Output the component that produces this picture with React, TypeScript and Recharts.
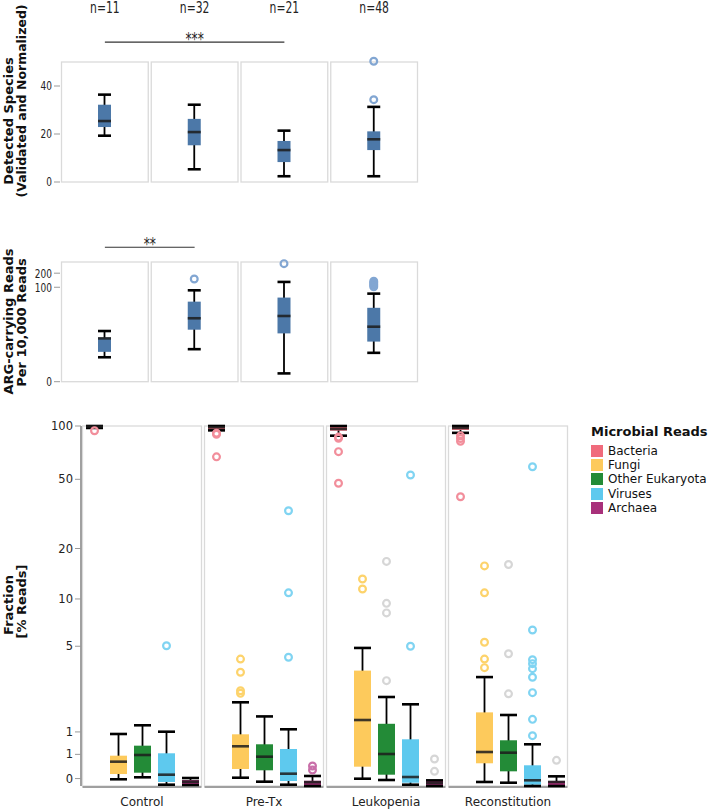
import React from "react";
import {
  Bar,
  ComposedChart,
  Legend,
  ReferenceArea,
  ReferenceLine,
  XAxis,
  YAxis,
} from "recharts";

const FONT = "'DejaVu Sans', Verdana, sans-serif";

const groups = ["Control", "Pre-Tx", "Leukopenia", "Reconstitution"];
const groupSizes = [11, 32, 21, 48];

// box stats per group: [lower whisker, q1, median, q3, upper whisker]
const speciesStats = [
  [19.3, 22.9, 25.4, 32.2, 36.4],
  [5.3, 15.3, 20.8, 26.3, 32.2],
  [2.4, 8.3, 13.3, 17.1, 21.4],
  [2.4, 13.3, 17.8, 21.1, 31.3],
];
const speciesOutliers = [[], [], [], [34.3, 50.3]];
const speciesTicks = [0, 20, 40];
const speciesMax = 50;

const argStats = [
  [2.3, 3.3, 7.3, 7.6, 10.9],
  [3.9, 11.7, 21.2, 49, 86],
  [0.5, 9.6, 23.8, 60, 130],
  [3.1, 6.1, 13.7, 36, 73],
];
const argOutliers = [[], [150], [319], [102, 110, 118, 126, 135]];
const argTicks = [0, 100, 200];
const argMax = 346;

const microbes = ["Bacteria", "Fungi", "Other Eukaryota", "Viruses", "Archaea"];
const microbeColors = ["#f06b7c", "#fdca5c", "#238b37", "#5ec9ee", "#a8307a"];

const bacteriaStats = [
  [97.5, 98.5, 99.3, 99.8, 100],
  [94.5, 95.5, 98.3, 99.8, 100],
  [88.2, 94.1, 96.2, 99.6, 100],
  [91.5, 95, 97.5, 99.3, 100],
];
const bacteriaOutliers = [[94], [91, 89.8, 67], [86.6, 85.3, 71.7, 47.5], [88, 85, 82, 39.8]];

const fungiStats = [
  [0.09, 0.166, 0.366, 0.475, 0.948],
  [0.112, 0.243, 0.664, 0.94, 1.924],
  [0.098, 0.281, 1.33, 3.39, 4.87],
  [0.053, 0.338, 0.546, 1.57, 3.04],
];
const fungiOutliers = [[], [4.09, 3.3, 2.39, 2.28], [13.2, 11.5], [15.8, 10.9, 5.31, 4.09, 3.56]];

const eukaryotaStats = [
  [0.118, 0.186, 0.488, 0.677, 1.178],
  [0.057, 0.223, 0.456, 0.707, 1.44],
  [0.08, 0.156, 0.507, 1.22, 2.13],
  [0.043, 0.207, 0.533, 0.797, 1.485],
];
const eukaryotaOutliers = [[], [], [16.8, 9.4, 8.2, 2.86], [16.1, 4.45, 2.26]];

const virusStats = [
  [0.017, 0.053, 0.156, 0.521, 1.006],
  [0.017, 0.066, 0.171, 0.607, 1.069],
  [0.017, 0.043, 0.122, 0.82, 1.85],
  [0, 0.017, 0.076, 0.304, 0.707],
];
const virusOutliers = [
  [5.04],
  [33.1, 10.9, 4.21],
  [52.9, 5.0],
  [58.9, 6.39, 4.05, 3.8, 3.5, 3.03, 2.31, 1.35, 0.906],
];

const archaeaStats = [
  [0.013, 0.013, 0.057, 0.08, 0.108],
  [0, 0, 0.05, 0.07, 0.137],
  [0, 0, 0.039, 0.07, 0.075],
  [0, 0, 0.053, 0.066, 0.132],
];
const archaeaOutliers = [[], [0.228, 0.292], [0.413, 0.207], [0.39]];

const bacteriaDot = ["#f28e9b", "#f28e9b", "#f28e9b", "#f28e9b"];
const fungiDot = ["#fdd36b", "#fdd36b", "#fdd36b", "#fdd36b"];
const eukaryotaDot = ["#d6d6d6", "#d6d6d6", "#d6d6d6", "#d6d6d6"];
const virusDot = ["#80d4f2", "#80d4f2", "#80d4f2", "#80d4f2"];
const archaeaDot = ["#d6d6d6", "#c96fa9", "#d6d6d6", "#d6d6d6"];

const fractionTicks = [0.1, 0.5, 1, 5, 10, 20, 50, 100];

const microbeStats = [bacteriaStats, fungiStats, eukaryotaStats, virusStats, archaeaStats];
const microbeOutliers = [bacteriaOutliers, fungiOutliers, eukaryotaOutliers, virusOutliers, archaeaOutliers];
const microbeDots = [bacteriaDot, fungiDot, eukaryotaDot, virusDot, archaeaDot];

const lin = (v: number) => v;
const tr = (v: number) => Math.log1p(v);

const squash = (x: number) => `translate(${x} 0) scale(0.72 1) translate(${-x} 0)`;

type BoxOpts = {
  stats: number[][];
  outliers: number[][];
  tf: (v: number) => number;
  fill: string;
  dots: string[];
};

function boxShape(o: BoxOpts) {
  return (props: any) => {
    const { x, y, width, height, payload } = props;
    const i = payload.idx;
    const [lo, q1, med, q3, hi] = o.stats[i];
    const t0 = o.tf(lo);
    const t1 = o.tf(hi);
    const py = (v: number) => y + (height * (t1 - o.tf(v))) / (t1 - t0);
    const cx = x + width / 2;
    const top = py(q3);
    const bottom = py(q1);
    return (
      <g>
        <line x1={cx} x2={cx} y1={py(hi)} y2={py(lo)} stroke="#000" strokeWidth={1.8} />
        <rect x={x} y={top} width={width} height={Math.max(bottom - top, 1.5)} fill={o.fill} />
        <line x1={x} x2={x + width} y1={py(hi)} y2={py(hi)} stroke="#000" strokeWidth={2.6} />
        <line x1={x} x2={x + width} y1={py(lo)} y2={py(lo)} stroke="#000" strokeWidth={2.6} />
        <line x1={x} x2={x + width} y1={py(med)} y2={py(med)} stroke="#1c1c1c" strokeOpacity={0.85} strokeWidth={2.6} />
        {o.outliers[i].map((v, k) => (
          <circle key={k} cx={cx} cy={py(v)} r={3.4} fill="none" stroke={o.dots[i]} strokeWidth={2.2} />
        ))}
      </g>
    );
  };
}

const panelShape = (bottomLine: boolean) => (p: any) => (
  <g>
    <rect x={p.x + 1.5} y={p.y} width={p.width - 3} height={p.height} fill="none" stroke="#dadada" strokeWidth={1.3} />
    {bottomLine && (
      <line x1={p.x + 1.5} x2={p.x + p.width - 1.5} y1={p.y + p.height + 1} y2={p.y + p.height + 1} stroke="#a0a0a0" strokeWidth={2} />
    )}
  </g>
);

const sigLabel = (text: string) => (p: any) => {
  const vb = p.viewBox || {};
  const cx = vb.x + (vb.width || 0) / 2;
  return (
    <text x={cx} y={vb.y + 3} textAnchor="middle" fontSize={17} fontFamily={FONT} fill="#222" transform={squash(cx)}>
      {text}
    </text>
  );
};

const squashedYTick = (fmt: (v: number) => string) => (p: any) => (
  <text x={p.x} y={p.y} dy="0.35em" textAnchor="end" fontSize={12.5} fontFamily={FONT} fill="#222" transform={squash(p.x)}>
    {fmt(p.payload.value)}
  </text>
);

const speciesRows = groups.map((g, idx) => ({ group: g, idx, range: [speciesStats[idx][0], speciesStats[idx][4]] }));
const argRows = groups.map((g, idx) => ({ group: g, idx, range: [tr(argStats[idx][0]), tr(argStats[idx][4])] }));
const fractionRows = groups.map((g, idx) => ({
  group: g,
  idx,
  ranges: microbes.map((_, s) => [tr(microbeStats[s][idx][0]), tr(microbeStats[s][idx][4])]),
}));

function MicrobeLegend() {
  return (
    <div style={{ fontFamily: FONT, color: "#111", textAlign: "left" }}>
      <div style={{ fontWeight: "bold", fontSize: 13, lineHeight: "16px", whiteSpace: "nowrap", marginBottom: 3.6 }}>
        Microbial Reads
      </div>
      {microbes.map((m, i) => (
        <div key={m} style={{ display: "flex", alignItems: "center", height: 14.3, fontSize: 12, whiteSpace: "nowrap" }}>
          <span style={{ display: "inline-block", width: 12, height: 12, background: microbeColors[i], marginRight: 5 }} />
          <span>{m}</span>
        </div>
      ))}
    </div>
  );
}

function TitleText({ x, y, size = 13, children }: { x: number; y: number; size?: number; children: string }) {
  return (
    <text
      transform={`translate(${x} ${y}) rotate(-90)`}
      textAnchor="middle"
      fontSize={size}
      fontWeight="bold"
      fontFamily={FONT}
      fill="#111"
    >
      {children}
    </text>
  );
}

export default function App() {
  return (
    <div style={{ position: "absolute", left: 0, top: 0, width: 709, height: 810, background: "#fff", fontFamily: FONT }}>
      <div style={{ position: "absolute", left: 0, top: 0 }}>
        <ComposedChart width={430} height={200} data={speciesRows} margin={{ top: 32, right: 11, bottom: 18, left: 0 }}>
          <XAxis
            dataKey="group"
            type="category"
            orientation="top"
            height={30}
            axisLine={false}
            tickLine={false}
            tick={(p: any) => (
              <text x={p.x} y={13} textAnchor="middle" fontSize={15} fontFamily={FONT} fill="#222" transform={squash(p.x)}>
                {`n=${groupSizes[groups.indexOf(p.payload.value)]}`}
              </text>
            )}
          />
          <YAxis
            type="number"
            domain={[0, speciesMax]}
            ticks={speciesTicks}
            interval={0}
            width={60}
            axisLine={false}
            tickLine={{ stroke: "#999" }}
            tickSize={6}
            tickMargin={2}
            tick={squashedYTick((v) => String(v))}
          />
          {groups.map((g) => (
            <ReferenceArea key={g} x1={g} x2={g} shape={panelShape(false)} />
          ))}
          <ReferenceLine
            segment={[
              { x: "Control", y: 58.3 },
              { x: "Leukopenia", y: 58.3 },
            ]}
            ifOverflow="visible"
            stroke="#333"
            strokeWidth={1.2}
            label={sigLabel("***")}
          />
          <Bar
            dataKey="range"
            barSize={13}
            isAnimationActive={false}
            shape={boxShape({ stats: speciesStats, outliers: speciesOutliers, tf: lin, fill: "#4c78a8", dots: ["#82a6d2", "#82a6d2", "#82a6d2", "#82a6d2"] })}
          />
        </ComposedChart>
      </div>

      <div style={{ position: "absolute", left: 0, top: 200 }}>
        <ComposedChart width={430} height={200} data={argRows} margin={{ top: 62, right: 11, bottom: 18.3, left: 0 }}>
          <XAxis dataKey="group" type="category" hide />
          <YAxis
            type="number"
            domain={[0, tr(argMax)]}
            ticks={argTicks.map(tr)}
            interval={0}
            width={60}
            axisLine={false}
            tickLine={{ stroke: "#999" }}
            tickSize={6}
            tickMargin={2}
            tick={squashedYTick((v) => String(Math.round(Math.expm1(v))))}
          />
          {groups.map((g) => (
            <ReferenceArea key={g} x1={g} x2={g} shape={panelShape(false)} />
          ))}
          <ReferenceLine
            segment={[
              { x: "Control", y: 6.57 },
              { x: "Pre-Tx", y: 6.57 },
            ]}
            ifOverflow="visible"
            stroke="#333"
            strokeWidth={1.2}
            label={sigLabel("**")}
          />
          <Bar
            dataKey="range"
            barSize={13}
            isAnimationActive={false}
            shape={boxShape({ stats: argStats, outliers: argOutliers, tf: tr, fill: "#4c78a8", dots: ["#82a6d2", "#82a6d2", "#82a6d2", "#82a6d2"] })}
          />
        </ComposedChart>
      </div>

      <div style={{ position: "absolute", left: 0, top: 400 }}>
        <ComposedChart
          width={709}
          height={410}
          data={fractionRows}
          barGap={7}
          margin={{ top: 26, right: 140, bottom: 0, left: 0 }}
        >
          <XAxis
            dataKey="group"
            type="category"
            height={24}
            axisLine={false}
            tickLine={false}
            tick={(p: any) => (
              <text x={p.x} y={406} textAnchor="middle" fontSize={12} fontFamily={FONT} fill="#222">
                {p.payload.value}
              </text>
            )}
          />
          <YAxis
            type="number"
            domain={[0, tr(100)]}
            ticks={fractionTicks.map(tr)}
            interval={0}
            width={81}
            axisLine={{ stroke: "#a0a0a0", strokeWidth: 2 }}
            tickLine={{ stroke: "#999" }}
            tickSize={6}
            tickMargin={2}
            tick={{ fontSize: 11.5, fontFamily: FONT, fill: "#222" }}
            tickFormatter={(v: number) => String(Math.round(Math.expm1(v) + 1e-9))}
          />
          {groups.map((g) => (
            <ReferenceArea key={g} x1={g} x2={g} shape={panelShape(true)} />
          ))}
          {microbes.map((m, s) => (
            <Bar
              key={m}
              name={m}
              dataKey={(d: any) => d.ranges[s]}
              fill={microbeColors[s]}
              barSize={17}
              isAnimationActive={false}
              shape={boxShape({
                stats: microbeStats[s],
                outliers: microbeOutliers[s],
                tf: tr,
                fill: microbeColors[s],
                dots: microbeDots[s],
              })}
            />
          ))}
          <Legend
            layout="horizontal"
            verticalAlign="middle"
            align="center"
            content={MicrobeLegend}
            wrapperStyle={{ left: 591, top: 24, width: 118, height: "auto" }}
          />
        </ComposedChart>
      </div>

      <svg width={40} height={810} style={{ position: "absolute", left: 0, top: 0, overflow: "hidden" }}>
        <TitleText x={12.5} y={121}>Detected Species</TitleText>
        <TitleText x={25.5} y={101} size={12.5}>(Validated and Normalized)</TitleText>
        <TitleText x={12.5} y={321.5}>ARG-carrying Reads</TitleText>
        <TitleText x={25.5} y={322.5}>Per 10,000 Reads</TitleText>
        <TitleText x={12.5} y={605}>Fraction</TitleText>
        <TitleText x={25.5} y={601.5}>[% Reads]</TitleText>
      </svg>
    </div>
  );
}
